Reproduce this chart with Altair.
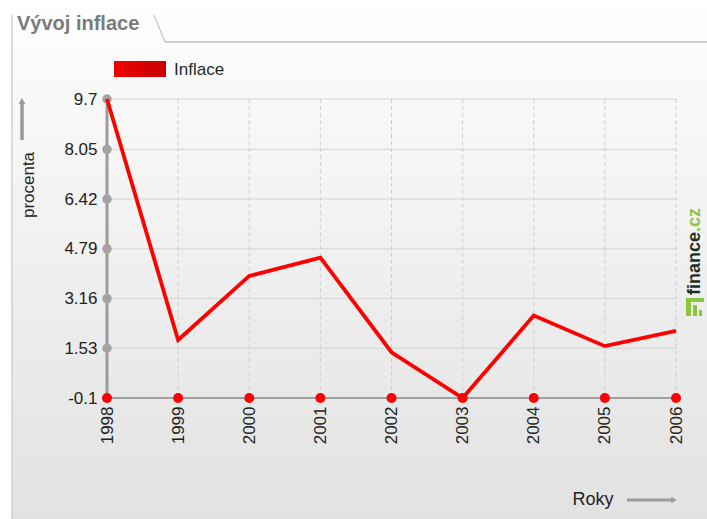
import altair as alt
import pandas as pd

# ---- data ----
years = [1998, 1999, 2000, 2001, 2002, 2003, 2004, 2005, 2006]
inflation = [9.7, 1.8, 3.9, 4.5, 1.4, -0.1, 2.6, 1.6, 2.1]
y_ticks = [-0.1, 1.53, 3.16, 4.79, 6.42, 8.05, 9.7]
series_name = "Inflace"
title_text = "Vývoj inflace"
y_title = "procenta"
x_title = "Roky"

df = pd.DataFrame({"year": years, "inflation": inflation})
tick_df = pd.DataFrame({"v": y_ticks})
one = pd.DataFrame({"a": [0]})

W, H = 569, 299
L, T = 107, 99
FONT = "Liberation Sans"

xs = alt.Scale(domain=[1998, 2006], nice=False, zero=False)
ys = alt.Scale(domain=[-0.1, 9.7], nice=False, zero=False)

x_axis = alt.Axis(values=years, format="d", labelAngle=-90, title=None, domain=False,
                  ticks=False, grid=False, labelFont=FONT, labelFontSize=17,
                  labelColor="#222222", labelPadding=8, zindex=2)
y_axis = alt.Axis(values=y_ticks, labelExpr="datum.value + ''", title=None, domain=False,
                  ticks=False, grid=False, labelFont=FONT, labelFontSize=17,
                  labelColor="#222222", labelPadding=10, zindex=2)

def X(field):
    return alt.X(field, type="quantitative", scale=xs, axis=x_axis)

def Y(field):
    return alt.Y(field, type="quantitative", scale=ys, axis=y_axis)

# background gradient
bg = alt.Chart(one).mark_rect(
    fill=alt.Gradient(
        gradient="linear",
        stops=[alt.GradientStop(color="#ffffff", offset=0),
               alt.GradientStop(color="#fbfbfb", offset=0.1),
               alt.GradientStop(color="#e2e2e2", offset=1)],
        x1=0, x2=0, y1=0, y2=1,
    )
).encode(x=alt.value(12 - L), x2=alt.value(707 - L), y=alt.value(0 - T), y2=alt.value(519 - T))

left_border = alt.Chart(one).mark_rule(color="#cfcfcf", strokeWidth=1.5).encode(
    x=alt.value(12 - L), y=alt.value(15 - T), y2=alt.value(519 - T))
tab_slant = alt.Chart(one).mark_rule(color="#c4c4c4", strokeWidth=1.2).encode(
    x=alt.value(154 - L), y=alt.value(15 - T), x2=alt.value(165 - L), y2=alt.value(42 - T))
tab_line = alt.Chart(one).mark_rule(color="#bdbdbd", strokeWidth=1.5).encode(
    x=alt.value(165 - L), x2=alt.value(707 - L), y=alt.value(42 - T))

title = alt.Chart(one).mark_text(
    text=title_text, font=FONT, fontSize=20, fontWeight="bold", color="#7a7a7a",
    align="left", baseline="alphabetic").encode(x=alt.value(17 - L), y=alt.value(30 - T))

# legend
leg_rect = alt.Chart(one).mark_rect(
    fill=alt.Gradient(
        gradient="linear",
        stops=[alt.GradientStop(color="#f20000", offset=0),
               alt.GradientStop(color="#c80000", offset=1)],
        x1=0, x2=1, y1=0, y2=0,
    )
).encode(x=alt.value(114 - L), x2=alt.value(166 - L), y=alt.value(61 - T), y2=alt.value(77 - T))
leg_text = alt.Chart(one).mark_text(
    text=series_name, font=FONT, fontSize=17, color="#1e2b2b", align="left", baseline="middle"
).encode(x=alt.value(174 - L), y=alt.value(70 - T))

# grid
hgrid = alt.Chart(tick_df).mark_rule(color="#d4d4d4", strokeWidth=1).encode(y=Y("v"))
vgrid = alt.Chart(df).mark_rule(color="#cdcdcd", strokeWidth=1, strokeDash=[4, 3]).encode(x=X("year"))

# axes lines
y_axis_line = alt.Chart(one).mark_rule(color="#9c9c9c", strokeWidth=3).encode(
    x=alt.value(0), y=alt.value(0), y2=alt.value(H))
x_axis_line = alt.Chart(one).mark_rule(color="#a0a0a0", strokeWidth=2).encode(
    x=alt.value(0), x2=alt.value(W), y=alt.value(H))
gray_dots = alt.Chart(tick_df).mark_circle(color="#a3a3a3", size=90, opacity=1).encode(
    x=alt.value(0), y=Y("v"))

# data
line = alt.Chart(df).mark_line(color="#ff0000", strokeWidth=3.8).encode(
    x=X("year"), y=Y("inflation"))
red_dots = alt.Chart(df).mark_circle(color="#ff0000", size=100, opacity=1).encode(
    x=X("year"), y=alt.value(H))

# axis titles with arrows
ytitle = alt.Chart(one).mark_text(
    text=y_title, font=FONT, fontSize=17, color="#222222", angle=270, align="center", baseline="middle"
).encode(x=alt.value(29 - L), y=alt.value(185 - T))
y_arrow = alt.Chart(one).mark_rule(color="#9a9a9a", strokeWidth=3.5).encode(
    x=alt.value(22 - L), y=alt.value(104 - T), y2=alt.value(140 - T))
y_head = alt.Chart(one).mark_point(shape="triangle-up", filled=True, color="#9a9a9a", size=45, opacity=1).encode(
    x=alt.value(22 - L), y=alt.value(101 - T))

xtitle = alt.Chart(one).mark_text(
    text=x_title, font=FONT, fontSize=18, color="#222222", align="center", baseline="middle"
).encode(x=alt.value(593 - L), y=alt.value(500 - T))
x_arrow = alt.Chart(one).mark_rule(color="#9a9a9a", strokeWidth=3).encode(
    x=alt.value(627 - L), x2=alt.value(672 - L), y=alt.value(500 - T))
x_head = alt.Chart(one).mark_point(shape="triangle-right", filled=True, color="#9a9a9a", size=40, opacity=1).encode(
    x=alt.value(674 - L), y=alt.value(500 - T))

# logo
logo1 = alt.Chart(one).mark_text(
    text="finance", font=FONT, fontSize=18, fontWeight="bold", color="#1f2f22", angle=270,
    align="left", baseline="middle").encode(x=alt.value(695 - L), y=alt.value(295 - T))
logo2 = alt.Chart(one).mark_text(
    text=".cz", font=FONT, fontSize=18, fontWeight="bold", color="#8cc63f", angle=270,
    align="left", baseline="middle").encode(x=alt.value(695 - L), y=alt.value(232 - T))
logo_bar1 = alt.Chart(one).mark_rect(color="#8cc63f").encode(
    x=alt.value(686 - L), x2=alt.value(704 - L), y=alt.value(298 - T), y2=alt.value(302 - T))
logo_bar2 = alt.Chart(one).mark_rect(color="#8cc63f").encode(
    x=alt.value(686 - L), x2=alt.value(691 - L), y=alt.value(302 - T), y2=alt.value(316 - T))
logo_bar3 = alt.Chart(one).mark_rect(color="#8cc63f").encode(
    x=alt.value(693 - L), x2=alt.value(697 - L), y=alt.value(305 - T), y2=alt.value(316 - T))
logo_bar4 = alt.Chart(one).mark_rect(color="#8cc63f").encode(
    x=alt.value(699 - L), x2=alt.value(702 - L), y=alt.value(310 - T), y2=alt.value(316 - T))

chart = alt.layer(
    bg, left_border, tab_slant, tab_line, title, leg_rect, leg_text,
    hgrid, vgrid, x_axis_line, y_axis_line, gray_dots, line, red_dots,
    ytitle, y_arrow, y_head, xtitle, x_arrow, x_head,
    logo1, logo2, logo_bar1, logo_bar2, logo_bar3, logo_bar4,
).properties(
    width=W, height=H,
    autosize=alt.AutoSizeParams(type="none"),
    padding={"left": L, "top": T, "right": 707 - L - W, "bottom": 519 - T - H},
    background="#ffffff",
).configure_view(stroke=None)

chart.save("out.html", embed_options={"renderer": "svg", "actions": False})
